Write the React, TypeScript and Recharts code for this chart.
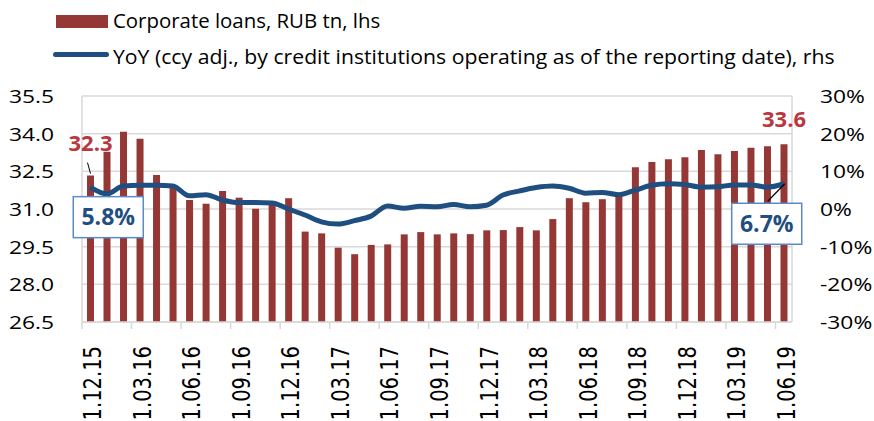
import React from "react";
import { ComposedChart, Bar, Line, XAxis, YAxis, CartesianGrid, LabelList } from "recharts";

const categories = [
  "1.12.15","1.01.16","1.02.16","1.03.16","1.04.16","1.05.16","1.06.16","1.07.16","1.08.16","1.09.16","1.10.16","1.11.16",
  "1.12.16","1.01.17","1.02.17","1.03.17","1.04.17","1.05.17","1.06.17","1.07.17","1.08.17","1.09.17","1.10.17","1.11.17",
  "1.12.17","1.01.18","1.02.18","1.03.18","1.04.18","1.05.18","1.06.18","1.07.18","1.08.18","1.09.18","1.10.18","1.11.18",
  "1.12.18","1.01.19","1.02.19","1.03.19","1.04.19","1.05.19","1.06.19",
];
const loans = [
  32.33, 33.28, 34.08, 33.8, 32.35, 31.85, 31.36, 31.21, 31.72, 31.45, 31.01, 31.16,
  31.43, 30.1, 30.03, 29.46, 29.2, 29.57, 29.59, 29.99, 30.08, 29.99, 30.03, 30.0,
  30.15, 30.16, 30.28, 30.15, 30.6, 31.43, 31.27, 31.39, 31.52, 32.66, 32.87, 32.98,
  33.06, 33.35, 33.18, 33.31, 33.44, 33.5, 33.58,
];
const yoy = [
  5.8, 4.0, 6.1, 6.3, 6.3, 6.1, 3.5, 3.8, 2.4, 1.7, 1.7, 1.6,
  0.0, -1.6, -3.4, -4.0, -3.1, -1.9, 0.8, 0.2, 0.7, 0.6, 1.2, 0.6,
  1.0, 3.7, 4.8, 5.7, 6.1, 5.5, 4.2, 4.4, 3.8, 5.0, 6.3, 6.7,
  6.5, 5.8, 5.9, 6.4, 6.4, 5.8, 6.7,
];
const leftTicks = [26.5, 28, 29.5, 31, 32.5, 34, 35.5];
const rightTicks = [-30, -20, -10, 0, 10, 20, 30];

const data = categories.map((c, i) => ({ date: c, loans: loans[i], yoy: yoy[i] }));

const W = 874;
const H = 421;
const AXIS_W = 82;
const TOP = 96;
const BAND = (W - 2 * AXIS_W) / categories.length;
const RED = "#953735";
const LABEL_RED = "#B9373E";
const BLUE = "#1F4E80";
const GRID = "#D9D9D9";
const FONT = "'Open Sans', sans-serif";

const LeftTick = (props: any) => {
  const { x, y, payload } = props;
  return (
    <g transform={`translate(${x - 26},${y}) scale(1.2,1)`}>
      <text x={0} y={0} dy={7} textAnchor="end" fontFamily={FONT} fontSize={19} fill="#000">
        {Number(payload.value).toFixed(1)}
      </text>
    </g>
  );
};

const RightTick = (props: any) => {
  const { x, y, payload } = props;
  return (
    <g transform={`translate(${x + 26},${y}) scale(1.2,1)`}>
      <text x={0} y={0} dy={7} textAnchor="start" fontFamily={FONT} fontSize={19} fill="#000">
        {`${payload.value}%`}
      </text>
    </g>
  );
};

const XTick = (props: any) => {
  const { x, y, payload } = props;
  return (
    <g>
      <line x1={x - BAND / 2} x2={x - BAND / 2} y1={y} y2={y + 7} stroke={GRID} strokeWidth={1.5} />
      <g transform={`translate(${x + 11},${y + 24}) scale(1.3,1) rotate(-90)`}>
        <text x={0} y={0} textAnchor="end" fontFamily="'DejaVu Sans', sans-serif" fontSize={19.5} fill="#000">
          {payload.value}
        </text>
      </g>
    </g>
  );
};

const BarLabel = (props: any) => {
  const { x, y, width, value, index } = props;
  if (index !== 0 && index !== categories.length - 1) return null;
  const cx = x + width / 2;
  const first = index === 0;
  return (
    <g>
      {first && <line x1={cx - 3} y1={y - 13} x2={cx} y2={y - 2} stroke="#000" strokeWidth={1} />}
      <text
        x={cx}
        y={first ? y - 25 : y - 17}
        textAnchor="middle"
        fontFamily={FONT}
        fontWeight="bold"
        fontSize={22}
        fill={LABEL_RED}
      >
        {Number(value).toFixed(1)}
      </text>
    </g>
  );
};

const LineLabel = (props: any) => {
  const { x, y, value, index } = props;
  if (index !== 0 && index !== categories.length - 1) return null;
  const first = index === 0;
  const bw = 70;
  const bh = 41;
  const cx = first ? x + 18 : x - 17;
  const cy = first ? y + 30 : y + 40;
  return (
    <g>
      {!first && <line x1={x + 1} y1={y} x2={cx + 1} y2={cy - bh / 2 - 2} stroke="#000" strokeWidth={1.2} />}
      <rect x={cx - bw / 2} y={cy - bh / 2} width={bw} height={bh} fill="#fff" stroke="#5B8AC6" strokeWidth={1.5} />
      <text x={cx} y={cy} dy={8} textAnchor="middle" fontFamily={FONT} fontWeight="bold" fontSize={23} fill={BLUE}>
        {`${Number(value).toFixed(1)}%`}
      </text>
    </g>
  );
};

const Legend = () => (
  <div style={{ position: "absolute", left: 0, top: 0, width: W, height: 80, fontFamily: FONT, fontSize: 20, color: "#000" }}>
    <div style={{ position: "absolute", left: 56, top: 15, width: 52, height: 13, background: RED }} />
    <div style={{ position: "absolute", left: 113, top: 7, whiteSpace: "nowrap", lineHeight: "28px", transform: "scaleX(1.02)", transformOrigin: "left center" }}>
      Corporate loans, RUB tn, lhs
    </div>
    <div style={{ position: "absolute", left: 53, top: 52, width: 56, height: 5, borderRadius: 3, background: BLUE }} />
    <div style={{ position: "absolute", left: 113, top: 43, whiteSpace: "nowrap", lineHeight: "28px", transform: "scaleX(1.06)", transformOrigin: "left center" }}>
      YoY (ccy adj., by credit institutions operating as of the reporting date), rhs
    </div>
  </div>
);

export default function App() {
  return (
    <div style={{ position: "absolute", left: 0, top: 0, width: W, height: H, background: "#fff" }}>
      <ComposedChart width={W} height={H} data={data} margin={{ top: TOP, right: 0, bottom: 0, left: 0 }}>
        <CartesianGrid horizontal vertical={false} stroke={GRID} strokeWidth={1.5} yAxisId="left" />
        <XAxis
          dataKey="date"
          interval={2}
          height={H - 322}
          tickLine={false}
          tickSize={0}
          tickMargin={0}
          axisLine={{ stroke: GRID, strokeWidth: 1.5 }}
          tick={<XTick />}
        />
        <YAxis
          yAxisId="left"
          orientation="left"
          width={AXIS_W}
          domain={[26.5, 35.5]}
          ticks={leftTicks}
          interval={0}
          tickLine={false}
          tickSize={0}
          axisLine={{ stroke: GRID, strokeWidth: 1.5 }}
          tick={<LeftTick />}
        />
        <YAxis
          yAxisId="right"
          orientation="right"
          width={AXIS_W}
          domain={[-30, 30]}
          ticks={rightTicks}
          interval={0}
          tickLine={false}
          tickSize={0}
          axisLine={{ stroke: GRID, strokeWidth: 1.5 }}
          tick={<RightTick />}
        />
        <Bar yAxisId="left" dataKey="loans" fill={RED} barSize={7} isAnimationActive={false}>
          <LabelList dataKey="loans" content={<BarLabel />} />
        </Bar>
        <Line
          yAxisId="right"
          dataKey="yoy"
          type="monotone"
          stroke={BLUE}
          strokeWidth={5}
          dot={false}
          activeDot={false}
          isAnimationActive={false}
        >
          <LabelList dataKey="yoy" content={<LineLabel />} />
        </Line>
      </ComposedChart>
      <Legend />
    </div>
  );
}
